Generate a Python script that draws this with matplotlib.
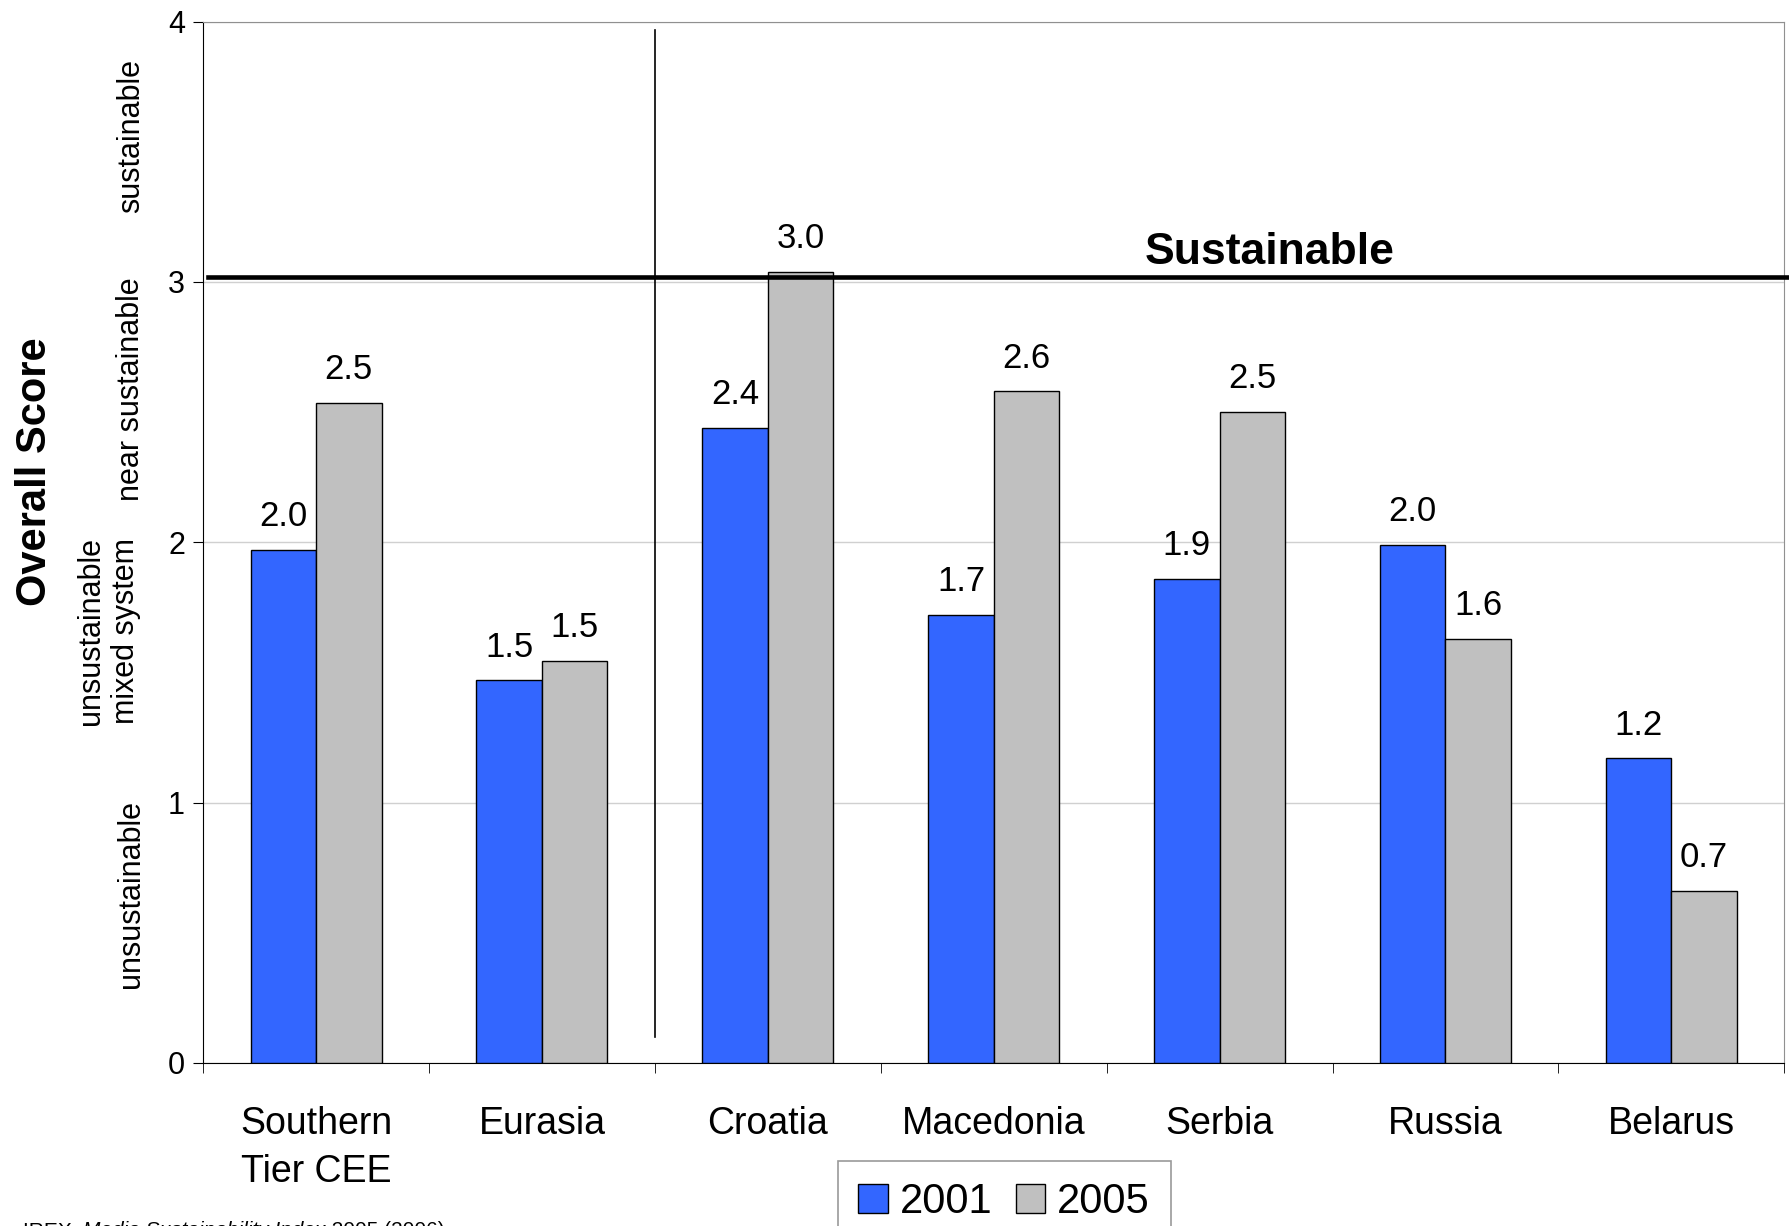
import matplotlib
matplotlib.use("Agg")
import matplotlib.pyplot as plt
import matplotlib.transforms as mtransforms
import numpy as np

plt.rcParams['font.family'] = ['Liberation Sans', 'DejaVu Sans']

categories = ["Southern\nTier CEE", "Eurasia", "Croatia", "Macedonia", "Serbia", "Russia", "Belarus"]
scores_2001 = [1.97, 1.47, 2.44, 1.72, 1.86, 1.99, 1.17]
scores_2005 = [2.535, 1.545, 3.04, 2.58, 2.50, 1.63, 0.66]
labels_2001 = ["2.0", "1.5", "2.4", "1.7", "1.9", "2.0", "1.2"]
labels_2005 = ["2.5", "1.5", "3.0", "2.6", "2.5", "1.6", "0.7"]
band_labels = [(3.56, "sustainable"), (2.59, "near sustainable"),
               (1.66, "unsustainable\nmixed system"), (0.65, "unsustainable")]

fig = plt.figure(figsize=(17.9, 12.26), dpi=100)
ax = fig.add_axes([0.1135, 0.1331, 0.8833, 0.8492])

x = np.arange(len(categories))
w = 0.29
b1 = ax.bar(x - w/2, scores_2001, w, color='#3366ff', edgecolor='black', linewidth=1, label='2001', zorder=3)
b2 = ax.bar(x + w/2, scores_2005, w, color='#c0c0c0', edgecolor='black', linewidth=1, label='2005', zorder=3)

for bars, labs in ((b1, labels_2001), (b2, labels_2005)):
    for r, t in zip(bars, labs):
        ax.annotate(t, (r.get_x() + r.get_width()/2, r.get_height()), xytext=(0, 12),
                    textcoords='offset points', ha='center', va='bottom', fontsize=25)

ax.set_xlim(-0.5, len(categories) - 0.5)
ax.set_ylim(0, 4)
ax.set_yticks([0, 1, 2, 3, 4])
ax.tick_params(axis='y', labelsize=22, length=7, direction='out', pad=6)
ax.set_xticks(x)
ax.set_xticklabels(categories, fontsize=27, linespacing=1.45)
ax.set_xticks(np.arange(len(categories) + 1) - 0.5, minor=True)
ax.tick_params(axis='x', which='major', length=0, pad=31)
ax.tick_params(axis='x', which='minor', length=7, direction='out')

ax.yaxis.grid(True, color='#d0d0d0', linewidth=1, zorder=0)
ax.spines['top'].set_color('#909090')
ax.spines['right'].set_color('#909090')

# sustainable threshold line and separator
ax.plot([-0.478, 6.53], [3.02, 3.02], color='black', linewidth=3.3, clip_on=False, zorder=4)
ax.plot([1.5, 1.5], [0.1, 3.97], color='black', linewidth=1.2, zorder=4)
ax.text(4.22, 3.07, "Sustainable", fontsize=32, fontweight='bold', ha='center', va='baseline')

trans = mtransforms.blended_transform_factory(fig.transFigure, ax.transData)
for yy, t in band_labels:
    xx = 0.0606 if "\n" in t else 0.0733
    ax.text(xx, yy, t, transform=trans, rotation=90, ha='center', va='center',
            fontsize=22, linespacing=1.2, multialignment='center')
ax.text(0.0198, 2.27, "Overall Score", transform=trans, rotation=90, ha='center', va='center',
        fontsize=30, fontweight='bold')

leg = fig.legend(handles=[b1, b2], loc='upper center', bbox_to_anchor=(0.561, 0.07), ncol=2,
                 fontsize=30, frameon=True, fancybox=False, edgecolor='#808080',
                 handlelength=0.7, handleheight=0.7, handletextpad=0.3, columnspacing=0.55,
                 borderpad=0.5)
leg.get_frame().set_linewidth(1.2)

t1 = fig.text(0.013, 0.004, "IREX, ", fontsize=15, va='top', ha='left')
t2 = ax.annotate("Media Sustainability Index", xy=(1, 0), xycoords=t1, va='bottom', ha='left',
                 fontsize=15, style='italic', annotation_clip=False)
ax.annotate(" 2005 (2006).", xy=(1, 0), xycoords=t2, va='bottom', ha='left', fontsize=15,
            annotation_clip=False)

fig.savefig("out.png", dpi=100)
